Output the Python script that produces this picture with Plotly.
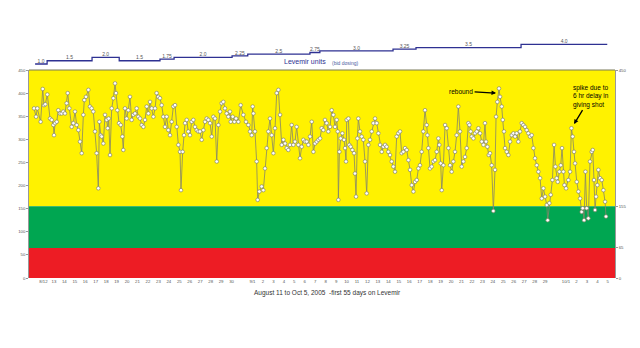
import plotly.graph_objects as go

# ---------------- data ----------------
# Blood glucose readings: day offset from Aug 11, 2005 and value (mg/dL)
bg_day_1 = [0.10,0.29,0.41,0.73,0.93,1.05,1.18,1.37,1.63,1.79,1.95,2.01,2.11,2.27,2.42,2.58,2.74,2.90,3.06,3.22,
            3.32,3.48,3.70,3.86,4.02,4.18,4.34,4.50,4.66,4.82,4.91,5.07,5.30,5.45,5.61,5.77,5.93,6.09,6.25,6.35,
            6.48,6.57,6.73,6.89,7.05,7.15,7.24,7.37,7.53,7.69,7.85,7.94,8.07,8.23,8.39,8.55,8.64,8.80,8.96,9.12,
            9.28,9.44,9.60,9.76,9.92,10.08,10.24,10.40,10.56,10.72,10.88,11.04,11.20,11.36,11.52,11.68,11.83,11.99,12.15,12.31,
            12.47,12.63,12.79,12.95,13.11,13.27,13.43,13.59,13.75,13.91,14.07,14.16,14.32,14.45,14.55,14.71,14.86,15.02,15.18,15.34,
            15.50,15.66,15.82,15.98,16.14,16.30,16.46,16.62,16.78,16.94,17.10,17.26,17.42,17.58,17.74,17.90,18.05,18.21,18.37,18.53,
            18.69,18.85]
bg_val_1 = [367,349,367,338,409,374,376,397,345,342,331,309,335,338,363,356,356,360,356,378,
            400,367,327,335,360,331,320,295,270,353,385,392,407,371,367,360,317,270,194,338,
            309,306,291,353,342,324,345,266,367,389,421,400,363,335,331,306,277,367,345,363,
            392,342,353,356,367,349,345,331,327,342,371,356,381,367,349,367,400,392,389,374,
            349,327,349,320,309,338,371,374,327,288,273,190,273,309,335,342,317,309,338,342,
            327,320,317,317,299,320,338,345,342,335,306,349,345,252,331,360,378,381,367,356,
            349,360]

bg_day_2 = [18.92,19.11,19.27,19.43,19.65,19.87,20.13,20.38,20.61,20.77,20.93,21.02,21.09,21.24,21.40,21.50,21.66,21.88,22.04,22.20,
            22.36,22.52,22.68,22.84,23.00,23.16,23.32,23.48,23.64,23.80,23.96,24.12,24.28,24.43,24.59,24.75,24.91,25.07,25.23,25.39,
            25.55,25.71,25.87,26.03,26.19,26.35,26.51,26.67,26.83,26.99,27.15,27.31,27.47,27.62,27.78,27.94,28.10,28.26,28.42,28.58,
            28.74,28.90,29.06,29.16,29.22,29.32,29.44,29.60,29.76,29.86,29.95,30.02,30.18,30.27,30.40,30.56,30.72,30.81,30.91,31.04,
            31.13,31.29,31.45,31.61,31.77,31.93,32.09,32.25,32.41,32.57,32.73,32.89,33.05,33.21,33.37,33.53,33.69,33.84,34.00,34.16,
            34.32,34.48,34.64,34.80,34.96,35.12,35.28,35.44,35.60,35.76,35.92,36.08,36.24,36.40,36.56,36.72,36.88,37.03]
bg_val_2 = [338,349,338,345,338,374,353,338,331,317,309,371,356,317,252,169,187,198,190,237,
            281,317,345,309,270,324,400,407,353,288,299,291,281,277,288,331,288,295,327,288,
            259,284,299,295,295,288,306,338,273,291,295,299,302,324,320,342,335,317,327,363,
            353,327,342,317,169,273,302,313,299,281,252,342,345,288,284,277,270,226,176,302,
            345,317,306,299,252,183,288,299,317,335,345,335,313,288,273,284,288,284,273,266,
            252,241,230,306,313,317,270,273,281,277,255,234,201,187,208,212,237,244]

bg_day_3 = [37.19,37.35,37.51,37.67,37.74,37.83,37.99,38.15,38.31,38.47,38.63,38.79,38.88,39.01,39.11,39.27,39.43,39.59,39.75,39.91,
            40.06,40.22,40.38,40.54,40.70,40.86,41.02,41.18,41.34,41.50,41.66,41.76,41.88,41.98,42.14,42.30,42.46,42.62,42.78,42.94,
            43.10,43.25,43.35,43.48,43.61,43.73,43.89,44.05,44.21,44.31,44.43,44.59,44.69,44.85,44.95,45.07,45.17,45.33,45.49,45.65,
            45.81,45.97,46.13,46.28,46.44,46.60,46.76,46.92,47.08,47.24,47.40,47.56,47.72,47.88,48.04,48.20,48.36,48.52,48.68,48.84,
            49.00,49.16,49.25,49.41,49.54,49.70,49.86,49.99,50.11,50.21,50.37,50.50,50.62,50.75,50.85,51.01,51.23,51.39,51.52,51.64,
            51.77,51.87,52.03,52.19,52.35,52.50,52.60,52.73,52.86,52.98,53.14,53.30,53.46,53.56,53.68,53.78,53.88,54.00,54.10,54.26,
            54.42,54.58,54.74,54.83]
bg_val_3 = [273,317,363,331,309,281,237,241,252,255,273,302,288,248,190,244,331,324,281,244,
            230,252,273,309,371,317,241,252,262,281,335,331,317,306,302,313,317,324,313,295,
            288,335,295,284,266,270,244,145,234,349,381,410,392,371,342,317,281,273,266,295,
            309,313,306,313,295,317,335,331,327,320,313,306,309,281,259,244,230,216,172,194,
            176,158,125,162,180,212,288,241,216,208,230,244,281,230,201,194,212,230,324,306,
            273,248,208,187,172,143,151,125,230,151,129,252,273,277,212,147,176,201,234,216,
            212,190,165,133]

assert len(bg_day_1) == len(bg_val_1), (len(bg_day_1), len(bg_val_1))
assert len(bg_day_2) == len(bg_val_2), (len(bg_day_2), len(bg_val_2))
assert len(bg_day_3) == len(bg_val_3), (len(bg_day_3), len(bg_val_3))

bg_day = bg_day_1 + bg_day_2 + bg_day_3
bg_val = bg_val_1 + bg_val_2 + bg_val_3

# Levemir dose (units, bid dosing): day each dose starts, and last day
dose_start = [0.2, 1.35, 5.65, 8.25, 12.15, 13.5, 19.05, 20.55, 26.5, 27.45, 34.45, 36.65, 46.7]
dose_end = 54.95
dose_units = [1.0, 1.5, 2.0, 1.5, 1.75, 2.0, 2.25, 2.5, 2.75, 3.0, 3.25, 3.5, 4.0]
dose_labels = ["1.0", "1.5", "2.0", "1.5", "1.75", "2.0", "2.25", "2.5", "2.75", "3.0", "3.25", "3.5", "4.0"]

# Zones (mg/dL)
low_limit = 65
high_limit = 155
y_max = 450

# Axis ticks
tick_days = list(range(1, 20)) + list(range(21, 50)) + list(range(51, 56))
tick_labels = (["8/12"] + [str(d) for d in range(13, 31)] +
               ["9/1"] + [str(d) for d in range(2, 30)] +
               ["10/1", "2", "3", "4", "5"])
left_ticks = [0, 50, 100, 150, 200, 250, 300, 350, 400, 450]
right_ticks = [0, 65, 155, 450]

FONT = "Liberation Sans, Arial, sans-serif"

fig = go.Figure()

# glucose line
fig.add_trace(go.Scatter(
    x=bg_day, y=bg_val, mode="lines+markers",
    line=dict(color="#85856a", width=0.8),
    marker=dict(symbol="circle", size=3.6, color="#ffffff",
                line=dict(color="#85856a", width=0.7)),
    xaxis="x", yaxis="y", showlegend=False, hoverinfo="skip"))

# dose step line
step_x = dose_start + [dose_end]
step_y = dose_units + [dose_units[-1]]
fig.add_trace(go.Scatter(
    x=step_x, y=step_y, mode="lines", line_shape="hv",
    line=dict(color="#2e3192", width=1.3),
    xaxis="x", yaxis="y2", showlegend=False, hoverinfo="skip"))

# dose labels at segment midpoints
mids = [(a + b) / 2 for a, b in zip(step_x[:-1], step_x[1:])]
fig.add_trace(go.Scatter(
    x=mids, y=dose_units, mode="text", text=dose_labels,
    textposition="top center", cliponaxis=False,
    textfont=dict(family=FONT, size=5, color="#555555"),
    xaxis="x", yaxis="y2", showlegend=False, hoverinfo="skip"))

# invisible trace for right axis
fig.add_trace(go.Scatter(x=[bg_day[0]], y=[bg_val[0]], mode="markers",
                         marker=dict(opacity=0), xaxis="x", yaxis="y3",
                         showlegend=False, hoverinfo="skip"))

# zone bands
shapes = [
    dict(type="rect", xref="x domain", yref="y", x0=0, x1=1, y0=high_limit, y1=y_max,
         fillcolor="#fff200", line_width=0, layer="below"),
    dict(type="rect", xref="x domain", yref="y", x0=0, x1=1, y0=low_limit, y1=high_limit,
         fillcolor="#00a651", line_width=0, layer="below"),
    dict(type="rect", xref="x domain", yref="y", x0=0, x1=1, y0=0, y1=low_limit,
         fillcolor="#ed1c24", line_width=0, layer="below"),
    dict(type="line", xref="x domain", yref="y domain", x0=0, x1=1, y0=1, y1=1,
         line=dict(color="#7a7a5a", width=1.2)),
]

x_dom = [29 / 640, 615 / 640]
main_dom = [(348 - 278) / 348, (348 - 70) / 348]
dose_dom = [(348 - 67.3) / 348, (348 - 41) / 348]

fig.update_layout(
    width=640, height=348,
    margin=dict(l=0, r=0, t=0, b=0),
    paper_bgcolor="white", plot_bgcolor="rgba(0,0,0,0)",
    template="none",
    font=dict(family=FONT, color="#444444"),
    shapes=shapes,
    xaxis=dict(domain=x_dom, range=[-0.383, 55.69], anchor="y",
               tickmode="array", tickvals=tick_days, ticktext=tick_labels,
               tickfont=dict(size=4.3, color="#555555"), tickangle=0,
               ticks="", ticklen=0, ticklabelstandoff=0,
               showgrid=False, zeroline=False, showline=False, automargin=False),
    yaxis=dict(domain=main_dom, range=[0, y_max], anchor="x",
               tickmode="array", tickvals=left_ticks,
               ticktext=[str(v) for v in left_ticks],
               tickfont=dict(size=4.3, color="#555555"),
               ticks="outside", ticklen=2, tickcolor="#999999",
               showgrid=False, zeroline=False, showline=True,
               linecolor="#999999", linewidth=0.6, automargin=False),
    yaxis2=dict(domain=dose_dom, range=[0.5, 4.5], anchor="x",
                showticklabels=False, ticks="", showgrid=False,
                zeroline=False, showline=False, automargin=False),
    yaxis3=dict(range=[0, y_max], overlaying="y", side="right", anchor="x",
                tickmode="array", tickvals=right_ticks,
                ticktext=[str(v) for v in right_ticks],
                tickfont=dict(size=4.3, color="#555555"),
                ticks="outside", ticklen=2, tickcolor="#999999",
                showgrid=False, zeroline=False, showline=True,
                linecolor="#999999", linewidth=0.6, automargin=False),
    annotations=[
        dict(text="Levemir units", xref="paper", yref="paper",
             x=305 / 640, y=(348 - 62) / 348, xanchor="center", yanchor="middle",
             showarrow=False,
             font=dict(family=FONT, size=7, color="#2e3192")),
        dict(text="(bid dosing)", xref="paper", yref="paper",
             x=345 / 640, y=(348 - 62.5) / 348, xanchor="center", yanchor="middle",
             showarrow=False,
             font=dict(family=FONT, size=5, color="#4a5aa0")),
        dict(text="August 11 to Oct 5, 2005  -first 55 days on Levemir",
             xref="paper", yref="paper", x=327 / 640, y=(348 - 293) / 348,
             xanchor="center", yanchor="middle",
             showarrow=False, font=dict(family=FONT, size=6.5, color="#333333")),
        dict(text="rebound", x=44.31, y=400, xref="x", yref="y",
             ax=-35, ay=-2, showarrow=True, arrowhead=2, arrowsize=0.7,
             arrowwidth=1.3, arrowcolor="#000000",
             font=dict(family=FONT, size=6.5, color="#000000")),
        dict(text="spike due to<br>6 hr delay in<br>giving shot", x=51.77, y=333,
             xref="x", yref="y", ax=17, ay=-28, showarrow=True, arrowhead=2,
             arrowsize=0.7, arrowwidth=1.3, arrowcolor="#000000", align="left",
             font=dict(family=FONT, size=6.5, color="#000000")),
    ],
)

fig.write_html("out.html")
